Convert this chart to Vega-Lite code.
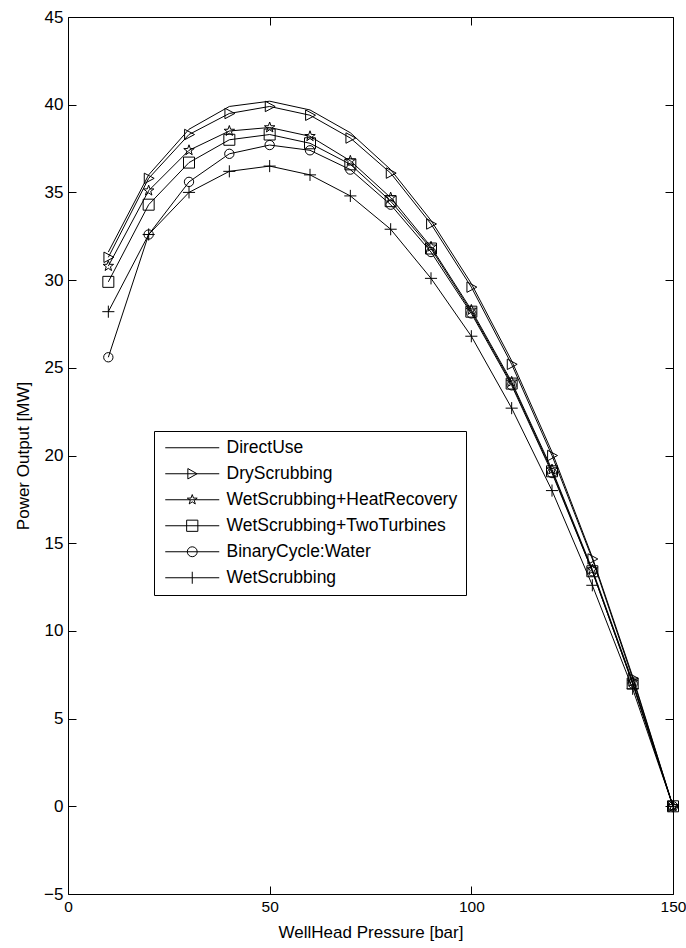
{
  "$schema": "https://vega.github.io/schema/vega-lite/v6.json",
  "width": 605,
  "height": 877,
  "autosize": "none",
  "padding": {"left": 68, "top": 17, "right": 13, "bottom": 54},
  "background": "white",
  "config": {
    "view": {"stroke": null},
    "font": "Liberation Sans",
    "axis": {"grid": false, "domainColor": "#000", "domainWidth": 1, "tickColor": "#000", "tickWidth": 1, "tickSize": -8, "labelColor": "#000", "labelFont": "Liberation Sans", "labelFontSize": 17, "titleFont": "Liberation Sans", "titleFontSize": 17, "titleFontWeight": "normal", "titleColor": "#000", "labelPadding": 13, "labelFlush": false}
  },
  "data": {"values": [
    {"p": 10, "mw": 31.6, "series": "DirectUse"}, {"p": 20, "mw": 36.0, "series": "DirectUse"}, {"p": 30, "mw": 38.6, "series": "DirectUse"}, {"p": 40, "mw": 39.9, "series": "DirectUse"}, {"p": 50, "mw": 40.2, "series": "DirectUse"}, {"p": 60, "mw": 39.7, "series": "DirectUse"}, {"p": 70, "mw": 38.4, "series": "DirectUse"}, {"p": 80, "mw": 36.3, "series": "DirectUse"}, {"p": 90, "mw": 33.4, "series": "DirectUse"}, {"p": 100, "mw": 29.8, "series": "DirectUse"}, {"p": 110, "mw": 25.4, "series": "DirectUse"}, {"p": 120, "mw": 20.2, "series": "DirectUse"}, {"p": 130, "mw": 14.2, "series": "DirectUse"}, {"p": 140, "mw": 7.4, "series": "DirectUse"}, {"p": 150, "mw": 0, "series": "DirectUse"},
    {"p": 10, "mw": 31.3, "series": "DryScrubbing"}, {"p": 20, "mw": 35.8, "series": "DryScrubbing"}, {"p": 30, "mw": 38.3, "series": "DryScrubbing"}, {"p": 40, "mw": 39.5, "series": "DryScrubbing"}, {"p": 50, "mw": 39.9, "series": "DryScrubbing"}, {"p": 60, "mw": 39.4, "series": "DryScrubbing"}, {"p": 70, "mw": 38.1, "series": "DryScrubbing"}, {"p": 80, "mw": 36.1, "series": "DryScrubbing"}, {"p": 90, "mw": 33.2, "series": "DryScrubbing"}, {"p": 100, "mw": 29.6, "series": "DryScrubbing"}, {"p": 110, "mw": 25.2, "series": "DryScrubbing"}, {"p": 120, "mw": 20.0, "series": "DryScrubbing"}, {"p": 130, "mw": 14.1, "series": "DryScrubbing"}, {"p": 140, "mw": 7.3, "series": "DryScrubbing"}, {"p": 150, "mw": 0, "series": "DryScrubbing"},
    {"p": 10, "mw": 30.8, "series": "WetScrubbing+HeatRecovery"}, {"p": 20, "mw": 35.1, "series": "WetScrubbing+HeatRecovery"}, {"p": 30, "mw": 37.4, "series": "WetScrubbing+HeatRecovery"}, {"p": 40, "mw": 38.5, "series": "WetScrubbing+HeatRecovery"}, {"p": 50, "mw": 38.7, "series": "WetScrubbing+HeatRecovery"}, {"p": 60, "mw": 38.2, "series": "WetScrubbing+HeatRecovery"}, {"p": 70, "mw": 36.8, "series": "WetScrubbing+HeatRecovery"}, {"p": 80, "mw": 34.7, "series": "WetScrubbing+HeatRecovery"}, {"p": 90, "mw": 31.9, "series": "WetScrubbing+HeatRecovery"}, {"p": 100, "mw": 28.3, "series": "WetScrubbing+HeatRecovery"}, {"p": 110, "mw": 24.2, "series": "WetScrubbing+HeatRecovery"}, {"p": 120, "mw": 19.2, "series": "WetScrubbing+HeatRecovery"}, {"p": 130, "mw": 13.5, "series": "WetScrubbing+HeatRecovery"}, {"p": 140, "mw": 7.1, "series": "WetScrubbing+HeatRecovery"}, {"p": 150, "mw": 0, "series": "WetScrubbing+HeatRecovery"},
    {"p": 10, "mw": 29.9, "series": "WetScrubbing+TwoTurbines"}, {"p": 20, "mw": 34.3, "series": "WetScrubbing+TwoTurbines"}, {"p": 30, "mw": 36.7, "series": "WetScrubbing+TwoTurbines"}, {"p": 40, "mw": 38.0, "series": "WetScrubbing+TwoTurbines"}, {"p": 50, "mw": 38.3, "series": "WetScrubbing+TwoTurbines"}, {"p": 60, "mw": 37.8, "series": "WetScrubbing+TwoTurbines"}, {"p": 70, "mw": 36.6, "series": "WetScrubbing+TwoTurbines"}, {"p": 80, "mw": 34.5, "series": "WetScrubbing+TwoTurbines"}, {"p": 90, "mw": 31.8, "series": "WetScrubbing+TwoTurbines"}, {"p": 100, "mw": 28.2, "series": "WetScrubbing+TwoTurbines"}, {"p": 110, "mw": 24.1, "series": "WetScrubbing+TwoTurbines"}, {"p": 120, "mw": 19.1, "series": "WetScrubbing+TwoTurbines"}, {"p": 130, "mw": 13.4, "series": "WetScrubbing+TwoTurbines"}, {"p": 140, "mw": 7.0, "series": "WetScrubbing+TwoTurbines"}, {"p": 150, "mw": 0, "series": "WetScrubbing+TwoTurbines"},
    {"p": 10, "mw": 25.6, "series": "BinaryCycle:Water"}, {"p": 20, "mw": 32.6, "series": "BinaryCycle:Water"}, {"p": 30, "mw": 35.6, "series": "BinaryCycle:Water"}, {"p": 40, "mw": 37.2, "series": "BinaryCycle:Water"}, {"p": 50, "mw": 37.7, "series": "BinaryCycle:Water"}, {"p": 60, "mw": 37.4, "series": "BinaryCycle:Water"}, {"p": 70, "mw": 36.3, "series": "BinaryCycle:Water"}, {"p": 80, "mw": 34.3, "series": "BinaryCycle:Water"}, {"p": 90, "mw": 31.6, "series": "BinaryCycle:Water"}, {"p": 100, "mw": 28.1, "series": "BinaryCycle:Water"}, {"p": 110, "mw": 24.0, "series": "BinaryCycle:Water"}, {"p": 120, "mw": 19.0, "series": "BinaryCycle:Water"}, {"p": 130, "mw": 13.4, "series": "BinaryCycle:Water"}, {"p": 140, "mw": 7.0, "series": "BinaryCycle:Water"}, {"p": 150, "mw": 0, "series": "BinaryCycle:Water"},
    {"p": 10, "mw": 28.2, "series": "WetScrubbing"}, {"p": 20, "mw": 32.6, "series": "WetScrubbing"}, {"p": 30, "mw": 35.0, "series": "WetScrubbing"}, {"p": 40, "mw": 36.2, "series": "WetScrubbing"}, {"p": 50, "mw": 36.5, "series": "WetScrubbing"}, {"p": 60, "mw": 36.0, "series": "WetScrubbing"}, {"p": 70, "mw": 34.8, "series": "WetScrubbing"}, {"p": 80, "mw": 32.9, "series": "WetScrubbing"}, {"p": 90, "mw": 30.1, "series": "WetScrubbing"}, {"p": 100, "mw": 26.8, "series": "WetScrubbing"}, {"p": 110, "mw": 22.7, "series": "WetScrubbing"}, {"p": 120, "mw": 18.0, "series": "WetScrubbing"}, {"p": 130, "mw": 12.6, "series": "WetScrubbing"}, {"p": 140, "mw": 6.7, "series": "WetScrubbing"}, {"p": 150, "mw": 0, "series": "WetScrubbing"}
  ]},
  "resolve": {
    "scale": {"shape": "independent"},
    "legend": {"shape": "independent"},
    "axis": {"x": "independent", "y": "independent"}
  },
  "layer": [
    {
      "mark": {"type": "line", "color": "#000", "strokeWidth": 1},
      "encoding": {
        "x": {"field": "p", "type": "quantitative", "scale": {"domain": [0, 150], "nice": false},
              "axis": {"orient": "bottom", "values": [0, 50, 100, 150], "labelFontSize": 15.5, "title": "WellHead Pressure [bar]", "titlePadding": 10}},
        "y": {"field": "mw", "type": "quantitative", "scale": {"domain": [-5, 45], "nice": false},
              "axis": {"orient": "left", "values": [-5, 0, 5, 10, 15, 20, 25, 30, 35, 40, 45], "title": "Power Output [MW]", "titlePadding": 11}},
        "detail": {"field": "series"}
      }
    },
    {
      "transform": [{"filter": "datum.series != 'DirectUse'"}],
      "mark": {"type": "point", "filled": false, "color": "#000", "strokeWidth": 1, "size": 121, "opacity": 1},
      "encoding": {
        "x": {"field": "p", "type": "quantitative",
              "axis": {"orient": "top", "values": [0, 50, 100, 150], "labels": false, "title": null}},
        "y": {"field": "mw", "type": "quantitative",
              "axis": {"orient": "right", "values": [-5, 0, 5, 10, 15, 20, 25, 30, 35, 40, 45], "labels": false, "title": null}},
        "shape": {"field": "series", "type": "nominal",
          "scale": {
            "domain": ["DryScrubbing", "WetScrubbing+HeatRecovery", "WetScrubbing+TwoTurbines", "BinaryCycle:Water", "WetScrubbing"],
            "range": [
              "M-0.8,-0.95L1,0L-0.8,0.95Z",
              "M0,-1L0.235,-0.324L0.951,-0.309L0.38,0.124L0.588,0.809L0,0.4L-0.588,0.809L-0.38,0.124L-0.951,-0.309L-0.235,-0.324Z",
              "M-1,-1H1V1H-1Z",
              "M0.85,0A0.85,0.85 0 1,1 -0.85,0A0.85,0.85 0 1,1 0.85,0Z",
              "M-1.1,0H1.1M0,-1.1V1.1"
            ]
          },
          "legend": null}
      }
    },
    {
      "mark": {"type": "point", "filled": false, "color": "#000", "strokeWidth": 1, "opacity": 0},
      "encoding": {
        "x": {"field": "p", "type": "quantitative", "axis": null},
        "y": {"field": "mw", "type": "quantitative", "axis": null},
        "shape": {"field": "series", "type": "nominal",
          "scale": {
            "domain": ["DirectUse", "DryScrubbing", "WetScrubbing+HeatRecovery", "WetScrubbing+TwoTurbines", "BinaryCycle:Water", "WetScrubbing"],
            "range": [
              "M-3.375,0H3.375",
              "M-3.375,0H3.375M-0.55,-0.65L0.6,0L-0.55,0.65Z",
              "M-3.375,0H3.375M0,-0.65L0.153,-0.211L0.618,-0.201L0.247,0.081L0.382,0.526L0,0.26L-0.382,0.526L-0.247,0.081L-0.618,-0.201L-0.153,-0.211Z",
              "M-3.375,0H3.375M-0.7,-0.7H0.7V0.7H-0.7Z",
              "M-3.375,0H3.375M0.62,0A0.62,0.62 0 1,1 -0.62,0A0.62,0.62 0 1,1 0.62,0Z",
              "M-3.375,0H3.375M0,-0.75V0.75"
            ]
          },
          "legend": {
            "orient": "none", "legendX": 86, "legendY": 414,
            "title": null, "padding": 8,
            "strokeColor": "#000", "fillColor": "#fff",
            "symbolSize": 256, "symbolStrokeWidth": 1, "symbolStrokeColor": "#000", "symbolFillColor": "transparent", "symbolOpacity": 1,
            "symbolOffset": 21.5, "labelOffset": 25.5, "rowPadding": 7,
            "labelFont": "Liberation Sans", "labelFontSize": 17.5, "labelColor": "#000", "labelLimit": 400
          }
        }
      }
    }
  ]
}
